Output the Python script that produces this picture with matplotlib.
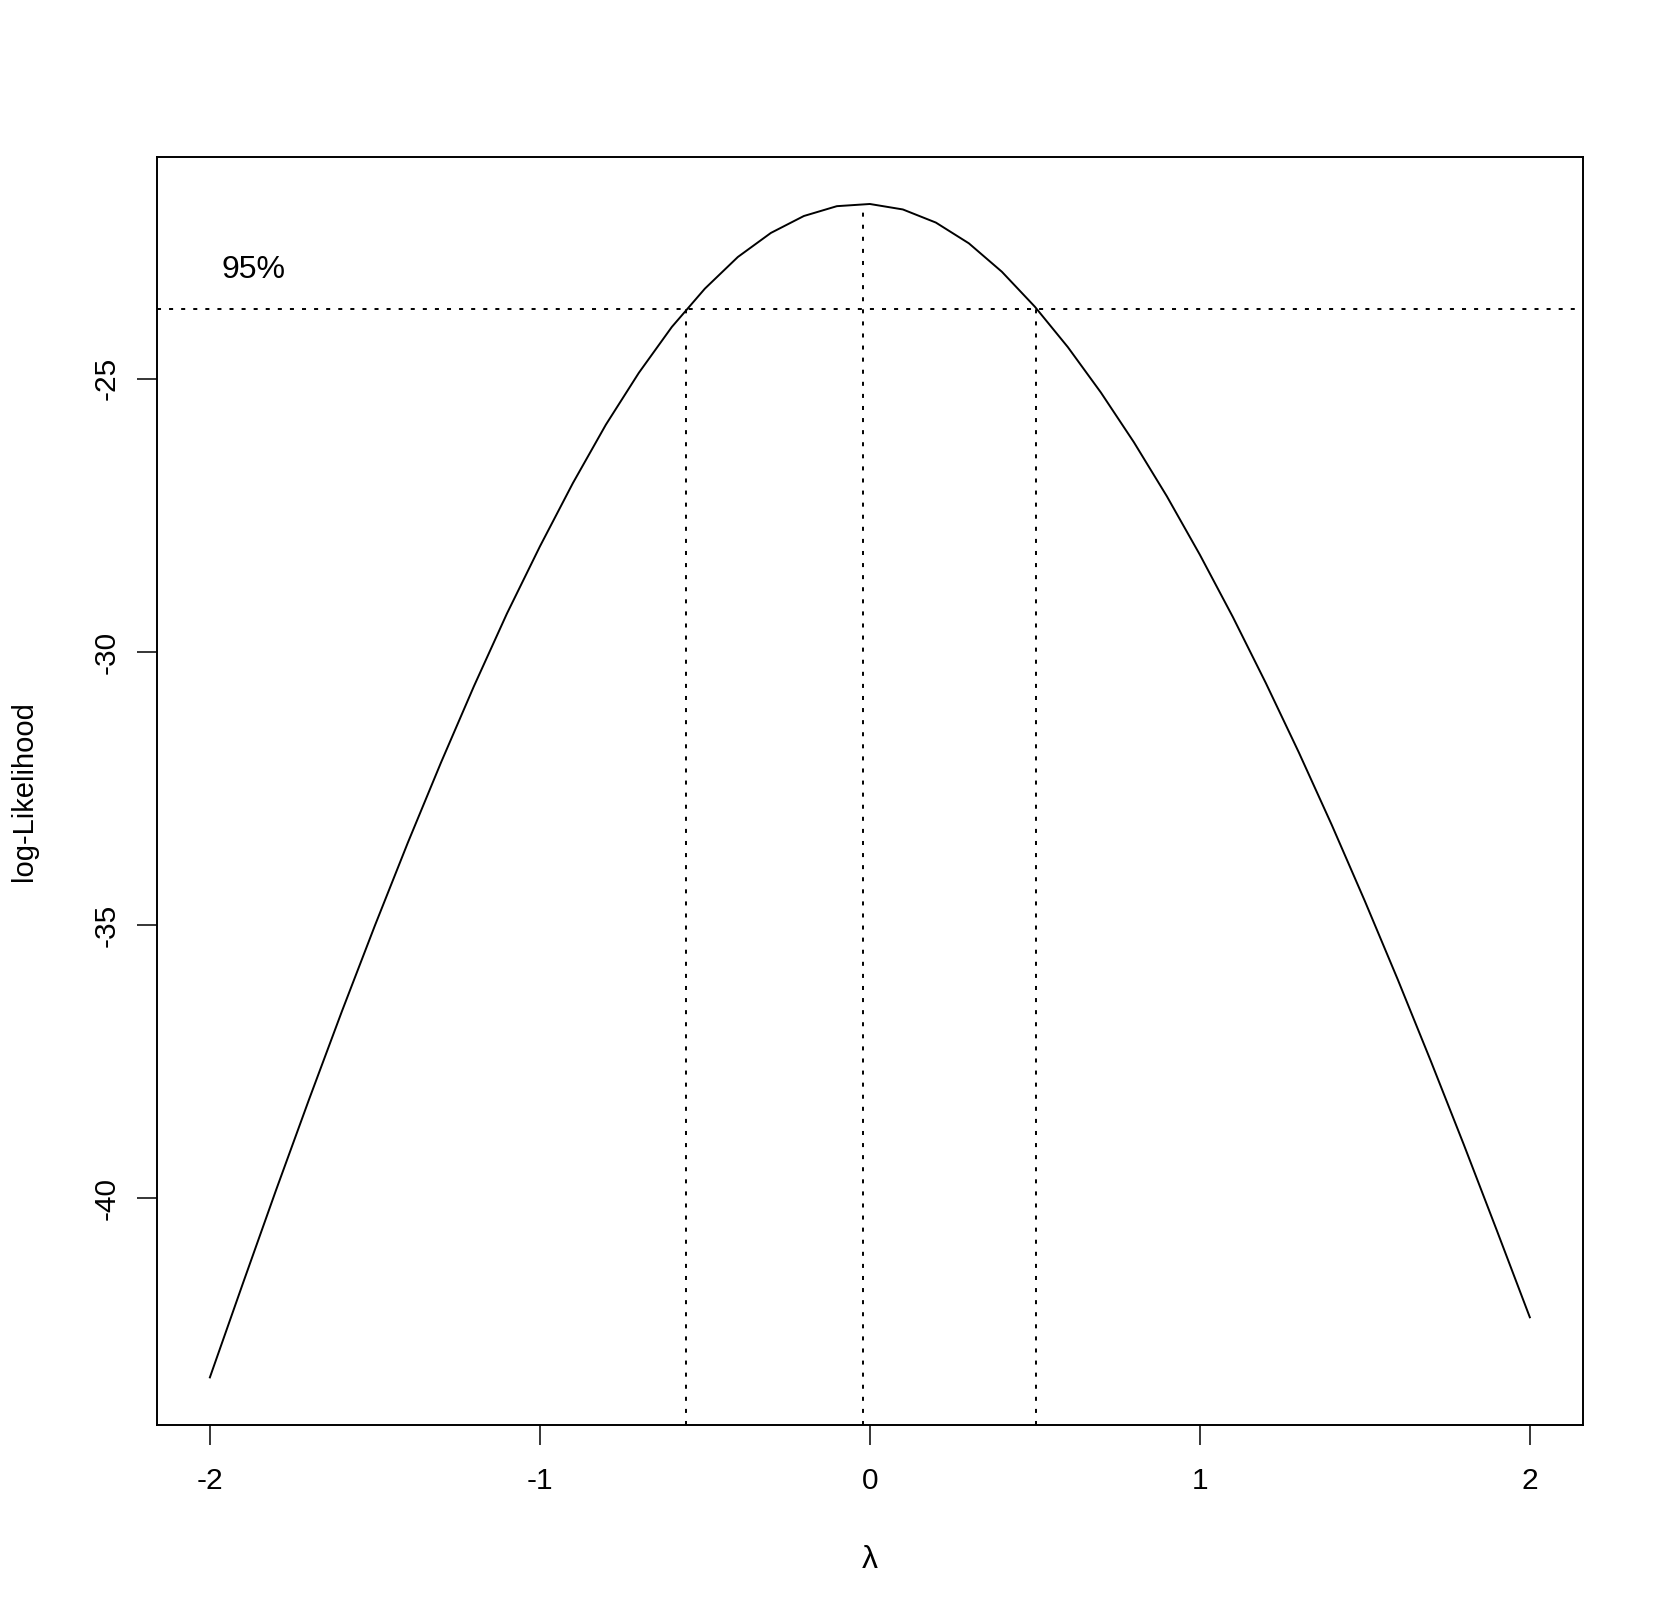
import numpy as np
import matplotlib
matplotlib.use("Agg")
import matplotlib.pyplot as plt

matplotlib.rc('font', family=['Liberation Sans', 'DejaVu Sans'], size=21)
matplotlib.rc('lines', scale_dashes=False)

# profile log-likelihood
lam = [-2.0, -1.9, -1.8, -1.7, -1.6, -1.5, -1.4, -1.3, -1.2, -1.1,
       -1.0, -0.9, -0.8, -0.7, -0.6, -0.5, -0.4, -0.3, -0.2, -0.1,
       0.0, 0.1, 0.2, 0.3, 0.4, 0.5, 0.6, 0.7, 0.8, 0.9,
       1.0, 1.1, 1.2, 1.3, 1.4, 1.5, 1.6, 1.7, 1.8, 1.9, 2.0]
loglik = [-43.28, -41.56, -39.86, -38.20, -36.58, -35.01, -33.49, -32.03, -30.63, -29.30,
          -28.07, -26.91, -25.84, -24.89, -24.05, -23.35, -22.77, -22.33, -22.02, -21.84,
          -21.80, -21.90, -22.14, -22.52, -23.04, -23.68, -24.42, -25.25, -26.16, -27.15,
          -28.22, -29.36, -30.57, -31.84, -33.17, -34.56, -36.00, -37.49, -39.02, -40.59,
          -42.18]

lam_hat = -0.02       # maximum
loglik_max = -21.80
ci_low = -0.556       # 95% interval
ci_high = 0.503
ci_level = -23.72

x_ticks = [-2, -1, 0, 1, 2]
y_ticks = [-25, -30, -35, -40]

fig = plt.figure(figsize=(16.64, 16.22), dpi=100)
ax = fig.add_axes([0.0944, 0.1215, 0.8567, 0.7817])

ax.plot(lam, loglik, color='black', linewidth=1.4)

dot = dict(color='black', linewidth=1.4, linestyle=(0, (2.9, 5.8)))
ax.axhline(ci_level, **dot)
ymin = -44.15
ax.plot([lam_hat, lam_hat], [ymin, loglik_max], **dot)
ax.plot([ci_low, ci_low], [ymin, ci_level], **dot)
ax.plot([ci_high, ci_high], [ymin, ci_level], **dot)

ax.text(-1.965, -23.15, "95%", ha='left', va='baseline', fontsize=23)

ax.set_xlim(-2.16, 2.16)
ax.set_ylim(ymin, -20.94)
ax.set_xticks(x_ticks)
ax.set_xticklabels([str(t) for t in x_ticks])
ax.set_yticks(y_ticks)
ax.set_yticklabels([str(t) for t in y_ticks], rotation=90, va='center')
ax.tick_params(axis='both', direction='out', length=14.4, width=1.1, labelsize=21.5)
ax.tick_params(axis='x', pad=16)
ax.tick_params(axis='y', pad=12)
for sp in ax.spines.values():
    sp.set_linewidth(1.4)

ax.set_xlabel("λ", va='center', fontsize=23)
ax.xaxis.set_label_coords(0.5, -0.1065)
ax.set_ylabel("log-Likelihood", va='center', fontsize=21)
ax.yaxis.set_label_coords(-0.0936, 0.5)

plt.savefig("out.png", dpi=100)
